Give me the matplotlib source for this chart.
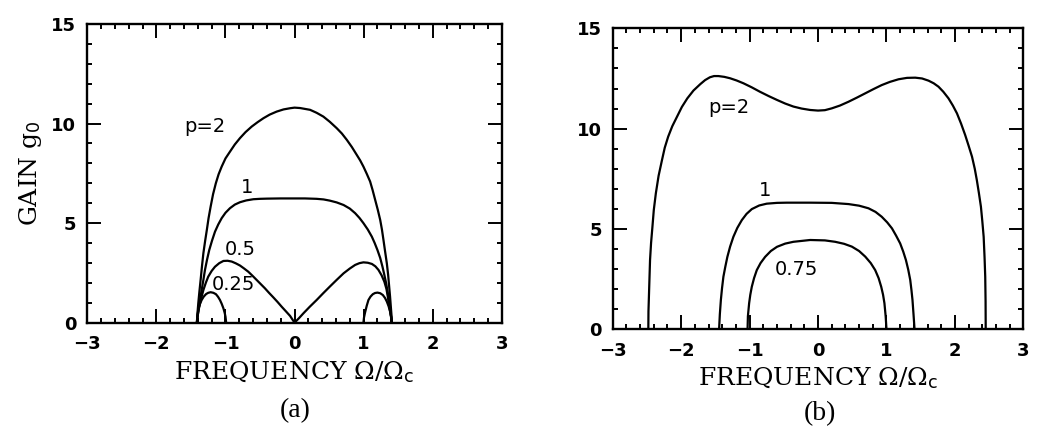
import matplotlib
matplotlib.use("Agg")
import matplotlib.pyplot as plt
from matplotlib.ticker import MultipleLocator

plt.rcParams["mathtext.fontset"] = "dejavuserif"

# ---- (a) curves ----
a_p2_x = [-1.414, -1.405, -1.394, -1.378, -1.36, -1.34, -1.32, -1.295, -1.27, -1.245, -1.215,
          -1.18, -1.14, -1.10, -1.055, -1.0, -0.935, -0.865, -0.79, -0.71, -0.62, -0.535,
          -0.45, -0.36, -0.26, -0.16, -0.065, 0.0, 0.08, 0.225, 0.32, 0.417, 0.51, 0.61,
          0.685, 0.757, 0.83, 0.90, 0.95, 0.997, 1.045, 1.094, 1.13, 1.167, 1.205, 1.24,
          1.265, 1.287, 1.31, 1.336, 1.355, 1.37, 1.383, 1.394, 1.403, 1.41]
a_p2_y = [0.0, 0.5, 0.97, 1.55, 2.15, 2.85, 3.49, 4.1, 4.66, 5.25, 5.83,
          6.45, 7.0, 7.45, 7.84, 8.25, 8.59, 8.95, 9.27, 9.57, 9.85, 10.07,
          10.27, 10.45, 10.6, 10.71, 10.77, 10.8, 10.78, 10.69, 10.54, 10.35, 10.09, 9.77,
          9.5, 9.18, 8.82, 8.43, 8.15, 7.84, 7.48, 7.09, 6.66, 6.17, 5.67, 5.16,
          4.68, 4.16, 3.6, 2.98, 2.4, 1.81, 1.3, 0.8, 0.4, 0.0]

a_p1_x = [-1.414, -1.40, -1.384, -1.365, -1.345, -1.32, -1.297, -1.268, -1.235, -1.195, -1.152,
          -1.105, -1.055, -1.0, -0.935, -0.865, -0.79, -0.70, -0.597, -0.50, -0.40, -0.2, 0.0,
          0.15, 0.32, 0.42, 0.51, 0.61, 0.71, 0.80, 0.877, 0.94, 0.997, 1.06, 1.119, 1.16,
          1.20, 1.24, 1.273, 1.30, 1.326, 1.35, 1.37, 1.39, 1.41]
a_p1_y = [0.0, 0.4, 0.80, 1.22, 1.64, 2.15, 2.65, 3.15, 3.65, 4.12, 4.57,
          4.93, 5.25, 5.52, 5.75, 5.93, 6.05, 6.14, 6.2, 6.22, 6.23, 6.24, 6.24,
          6.24, 6.22, 6.19, 6.13, 6.04, 5.91, 5.73, 5.5, 5.26, 5.0, 4.68, 4.32, 4.0,
          3.65, 3.25, 2.81, 2.4, 1.98, 1.5, 0.97, 0.5, 0.0]

a_p05_x = [-1.414, -1.40, -1.38, -1.35, -1.32, -1.285, -1.25, -1.20, -1.152, -1.09, -1.03,
           -0.97, -0.91, -0.85, -0.79, -0.73, -0.67, -0.61, -0.55, -0.49, -0.43, -0.37,
           -0.307, -0.246, -0.186, -0.125, -0.065, 0.0, 0.065, 0.128, 0.22, 0.32, 0.415,
           0.51, 0.61, 0.71, 0.80, 0.877, 0.94, 0.997, 1.06, 1.12, 1.17, 1.215, 1.26, 1.30,
           1.33, 1.35, 1.365, 1.38, 1.395, 1.41]
a_p05_y = [0.0, 0.42, 0.80, 1.25, 1.64, 2.0, 2.31, 2.6, 2.81, 2.99, 3.10,
           3.11, 3.07, 2.98, 2.87, 2.72, 2.56, 2.36, 2.15, 1.94, 1.73, 1.5,
           1.27, 1.04, 0.80, 0.57, 0.34, 0.0, 0.23, 0.47, 0.8, 1.14, 1.48,
           1.81, 2.15, 2.48, 2.72, 2.90, 2.99, 3.03, 3.01, 2.95, 2.83, 2.65, 2.38, 2.06,
           1.7, 1.31, 1.0, 0.64, 0.32, 0.0]

a_p025_xl = [-1.414, -1.408, -1.394, -1.372, -1.345, -1.315, -1.28, -1.25, -1.215, -1.175,
             -1.138, -1.108, -1.08, -1.055, -1.03, -1.012, -1.0, -0.99]
a_p025_yl = [0.0, 0.32, 0.64, 0.92, 1.14, 1.31, 1.44, 1.5, 1.53, 1.5,
             1.43, 1.3, 1.14, 0.95, 0.72, 0.5, 0.30, 0.0]
a_p025_xr = [0.997, 1.005, 1.02, 1.045, 1.07, 1.10, 1.133, 1.165, 1.20, 1.24, 1.278, 1.31,
             1.336, 1.362, 1.384, 1.40, 1.41]
a_p025_yr = [0.0, 0.25, 0.50, 0.85, 1.14, 1.31, 1.43, 1.49, 1.51, 1.48, 1.39, 1.24,
             1.06, 0.82, 0.55, 0.28, 0.0]

# ---- (b) curves ----
b_p2_x = [-2.48, -2.478, -2.47, -2.455, -2.44, -2.42, -2.40, -2.37, -2.33, -2.28, -2.24, -2.19,
          -2.13, -2.06, -1.99, -1.91, -1.82, -1.72, -1.65, -1.58, -1.52, -1.456, -1.37, -1.285,
          -1.19, -1.09, -0.97, -0.85, -0.72, -0.60, -0.48, -0.36, -0.24, -0.115, 0.0, 0.1,
          0.20, 0.32, 0.445, 0.57, 0.69, 0.81, 0.93, 1.05, 1.176, 1.30, 1.42, 1.52, 1.615,
          1.69, 1.76, 1.83, 1.906, 1.97, 2.03, 2.09, 2.15, 2.20, 2.25, 2.29, 2.32, 2.35,
          2.38, 2.40, 2.42, 2.433, 2.443, 2.448, 2.45]
b_p2_y = [0.0, 0.9, 1.79, 3.45, 4.3, 5.11, 5.95, 6.78, 7.65, 8.44, 9.05, 9.6,
          10.12, 10.6, 11.08, 11.51, 11.9, 12.22, 12.42, 12.56, 12.62, 12.62, 12.58, 12.51,
          12.4, 12.26, 12.06, 11.84, 11.62, 11.43, 11.25, 11.1, 11.0, 10.93, 10.9, 10.92,
          11.01, 11.15, 11.34, 11.55, 11.76, 11.97, 12.17, 12.33, 12.46, 12.53, 12.54, 12.5, 12.39,
          12.26, 12.09, 11.84, 11.51, 11.15, 10.76, 10.25, 9.68, 9.15, 8.6, 8.0, 7.44, 6.8,
          6.11, 5.4, 4.61, 3.6, 2.62, 1.4, 0.0]

b_p1_x = [-1.446, -1.435, -1.42, -1.403, -1.383, -1.355, -1.325, -1.285, -1.237, -1.18, -1.114,
          -1.045, -0.968, -0.86, -0.75, -0.6, -0.456, -0.115, 0.2, 0.445, 0.6, 0.737, 0.84,
          0.93, 1.01, 1.08, 1.14, 1.20, 1.245, 1.284, 1.318, 1.347, 1.365, 1.38, 1.395, 1.41]
b_p1_y = [0.0, 0.75, 1.46, 2.05, 2.62, 3.12, 3.61, 4.12, 4.61, 5.05, 5.44,
          5.75, 5.99, 6.17, 6.26, 6.3, 6.31, 6.31, 6.3, 6.24, 6.16, 6.03, 5.85,
          5.61, 5.33, 5.03, 4.67, 4.28, 3.87, 3.45, 2.97, 2.46, 1.95, 1.46, 0.75, 0.0]

b_p075_x = [-1.03, -1.025, -1.007, -0.99, -0.968, -0.935, -0.895, -0.84, -0.773, -0.69, -0.60,
            -0.48, -0.36, -0.115, 0.1, 0.25, 0.38, 0.494, 0.6, 0.69, 0.77, 0.835, 0.885,
            0.923, 0.95, 0.97, 0.988, 1.0]
b_p075_y = [0.0, 0.65, 1.3, 1.72, 2.12, 2.55, 2.95, 3.3, 3.61, 3.9, 4.11,
            4.27, 4.36, 4.45, 4.43, 4.36, 4.26, 4.12, 3.9, 3.62, 3.3, 2.95, 2.55,
            2.12, 1.72, 1.3, 0.65, 0.0]

tick_font = dict(family="DejaVu Sans", weight="bold", size=13)
lab_font = dict(family="DejaVu Sans", size=14)
axis_font = "DejaVu Serif"
cap_font = "Liberation Serif"

fig = plt.figure(figsize=(10.55, 4.43), dpi=100)
ax_a = fig.add_axes([0.0828, 0.2716, 0.3928, 0.6742])
ax_b = fig.add_axes([0.5808, 0.2567, 0.3892, 0.6794])


def style(ax):
    ax.set_xlim(-3, 3)
    ax.set_ylim(0, 15)
    ax.xaxis.set_major_locator(MultipleLocator(1))
    ax.xaxis.set_minor_locator(MultipleLocator(0.2))
    ax.yaxis.set_major_locator(MultipleLocator(5))
    ax.yaxis.set_minor_locator(MultipleLocator(1))
    ax.tick_params(which="both", direction="in", top=True, right=True, width=1.4, color="black")
    ax.tick_params(which="major", length=10)
    ax.tick_params(axis="x", which="major", pad=9)
    ax.tick_params(axis="y", which="major", pad=8)
    ax.tick_params(which="minor", length=3.5)
    for s in ax.spines.values():
        s.set_linewidth(1.7)
    for t in ax.get_xticklabels() + ax.get_yticklabels():
        t.set_fontfamily(tick_font["family"])
        t.set_fontweight(tick_font["weight"])
        t.set_fontsize(tick_font["size"])
    ax.set_xlabel(r"FREQUENCY $\Omega/\Omega_\mathsf{c}$", fontfamily=axis_font, fontsize=18, labelpad=4)


lw = 1.6
ax_a.plot(a_p2_x, a_p2_y, color="black", lw=lw)
ax_a.plot(a_p1_x, a_p1_y, color="black", lw=lw)
ax_a.plot(a_p05_x, a_p05_y, color="black", lw=lw)
ax_a.plot(a_p025_xl, a_p025_yl, color="black", lw=lw)
ax_a.plot(a_p025_xr, a_p025_yr, color="black", lw=lw)
style(ax_a)
ax_a.set_ylabel(r"GAIN $\mathrm{g}_\mathsf{0}$", fontfamily=axis_font, fontsize=18, labelpad=5)
ax_a.text(-1.30, 9.85, "p=2", ha="center", va="center", **lab_font)
ax_a.text(-0.69, 6.8, "1", ha="center", va="center", **lab_font)
ax_a.text(-0.78, 3.69, "0.5", ha="center", va="center", **lab_font)
ax_a.text(-0.89, 1.93, "0.25", ha="center", va="center", **lab_font)

ax_b.plot(b_p2_x, b_p2_y, color="black", lw=lw)
ax_b.plot(b_p1_x, b_p1_y, color="black", lw=lw)
ax_b.plot(b_p075_x, b_p075_y, color="black", lw=lw)
style(ax_b)
ax_b.text(-1.30, 11.05, "p=2", ha="center", va="center", **lab_font)
ax_b.text(-0.77, 6.9, "1", ha="center", va="center", **lab_font)
ax_b.text(-0.31, 3.0, "0.75", ha="center", va="center", **lab_font)

fig.text(294.8 / 1055, 1 - 411 / 443, "(a)", ha="center", va="center", fontfamily=cap_font, fontsize=20)
fig.text(819.7 / 1055, 1 - 414 / 443, "(b)", ha="center", va="center", fontfamily=cap_font, fontsize=20)

fig.savefig("out.png", dpi=100)
